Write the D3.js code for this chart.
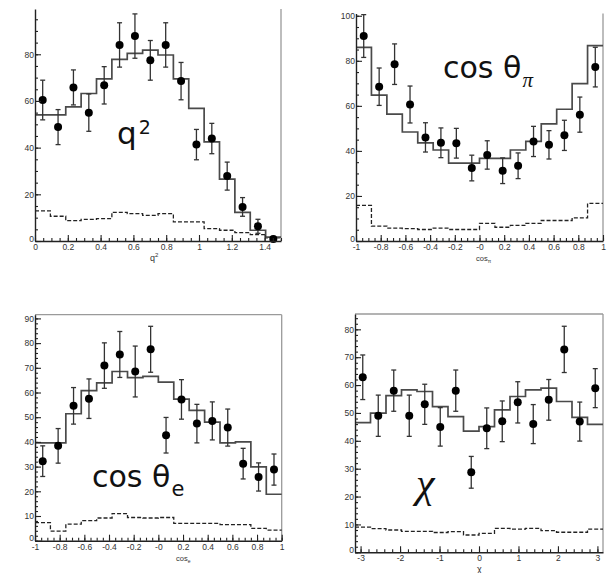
<!DOCTYPE html>
<html>
<head>
<meta charset="utf-8">
<script src="https://cdn.jsdelivr.net/npm/d3@7"></script>
<style>
  body { margin: 0; background: #fff; }
  svg { display: block; }
</style>
</head>
<body>
<svg id="chart" width="607" height="573"></svg>
<script>
/* globals d3 */

const width = 607;
const height = 573;

// ---- data ----
// q^2 panel, 16 bins over 0..1.5
const q2Data = [60.4, 48.8, 65.8, 55, 66.7, 84, 87.8, 77.4, 84, 68.5, 41.3, 43.9, 27.8, 14.6, 6.3, 0.9];
const q2Err = [8.5, 7.5, 7.5, 8, 8, 9.5, 9.5, 8.5, 9.5, 8, 6.5, 6.5, 6, 4, 3, 1];
const q2Mc = [54, 54, 57.5, 63.2, 69.5, 77.8, 80.4, 81.8, 79.7, 69.5, 56.8, 42.5, 26.5, 12.3, 4.6, 1.7];
const q2Bg = [12.9, 10.6, 8.7, 9.3, 9.6, 12.3, 11.7, 11.0, 11.7, 8.2, 8.2, 5.3, 4.6, 3.6, 2.7, 1.3];
const q2Ticks = [0, 0.2, 0.4, 0.6, 0.8, 1, 1.2, 1.4];
const q2TickLabels = ["0", "0.2", "0.4", "0.6", "0.8", "1", "1.2", "1.4"];

// cos theta_pi panel, 16 bins over -1..1
const cpiData = [91, 68.5, 78.5, 60.6, 46, 43.6, 43.4, 32.4, 38.2, 31.2, 33.4, 44.2, 42.7, 46.9, 56.1, 77.2];
const cpiErr = [9.5, 8.3, 9, 8.2, 6.5, 6.6, 6.6, 5.7, 6.3, 5.7, 5.7, 6.7, 6.3, 6.7, 7.8, 8.8];
const cpiMc = [86, 64.8, 56.3, 48.4, 43.6, 40.4, 34.6, 34.6, 36.7, 36.7, 40.4, 44.2, 52, 58.5, 69.9, 86.7];
const cpiBg = [15.8, 6.6, 5.7, 5.5, 5.1, 5.7, 5.1, 5.1, 7.8, 6.1, 6.9, 7.8, 9.1, 9.1, 10.3, 16.7];

// cos theta_e panel, 16 bins over -1..1
const ceData = [32.2, 38.4, 54.6, 57.5, 70.9, 75.4, 68.5, 77.5, 42.7, 57.2, 47.4, 48.5, 45.8, 31.2, 25.8, 28.8];
const ceErr = [6.2, 7, 7.4, 8, 9.2, 9.3, 10.3, 9.3, 7.2, 8, 7.8, 7.7, 7.5, 6.2, 5.7, 6.3];
const ceMc = [39.6, 39.6, 51.4, 60.8, 63.9, 68.5, 66, 66.5, 64.2, 57.3, 52.8, 48, 39.6, 40, 29.9, 18.8];
const ceBg = [7.3, 3.9, 6.7, 8.1, 9.2, 11.0, 9.4, 9.2, 9.4, 7, 7, 7, 6.5, 6.5, 5, 4.3];

const cosTicks = [-1, -0.8, -0.6, -0.4, -0.2, 0, 0.2, 0.4, 0.6, 0.8, 1];
const cosTickLabels = ["-1", "-0.8", "-0.6", "-0.4", "-0.2", "-0", "0.2", "0.4", "0.6", "0.8", "1"];

// chi panel, 16 bins over -pi..pi
const chiData = [62.8, 49, 58, 49, 53.1, 45, 58, 28.7, 44.5, 47, 53.8, 46, 54.7, 72.8, 46.9, 58.9];
const chiErr = [8, 7.4, 7.4, 7.4, 7.2, 6.9, 7.4, 5.7, 7.3, 7.3, 7.4, 7, 7.3, 8.3, 7, 7];
const chiMc = [46.5, 49.9, 56.2, 58.3, 57.7, 52.3, 48.7, 43.5, 45.1, 51.1, 55.9, 58.3, 58.9, 54.1, 48.4, 45.9];
const chiBg = [9, 8.5, 8, 7.5, 7.5, 7.1, 7.4, 6.2, 6.8, 8.6, 8.3, 8.6, 7.8, 7.2, 7.2, 8.3];
const chiTicks = [-3, -2, -1, 0, 1, 2, 3];
const chiTickLabels = ["-3", "-2", "-1", "0", "1", "2", "3"];

// ---- layout ----
const panels = [
  {
    left: 35, right: 281, top: 9, bottom: 241, topLine: false,
    xDomain: [0, 1.5], yDomain: [0, 99.4],
    data: q2Data, err: q2Err, mc: q2Mc, bg: q2Bg,
    xTicks: q2Ticks, xTickLabels: q2TickLabels, xMinor: 0.05,
    yStep: 20, yMinor: 5
  },
  {
    left: 356, right: 603, top: 13.5, bottom: 241, topLine: false,
    xDomain: [-1, 1], yDomain: [0, 101],
    data: cpiData, err: cpiErr, mc: cpiMc, bg: cpiBg,
    xTicks: cosTicks, xTickLabels: cosTickLabels, xMinor: 0.05,
    yStep: 20, yMinor: 5
  },
  {
    left: 35, right: 281.7, top: 314.7, bottom: 540.7, topLine: true,
    xDomain: [-1, 1], yDomain: [0, 91.5],
    data: ceData, err: ceErr, mc: ceMc, bg: ceBg,
    xTicks: cosTicks, xTickLabels: cosTickLabels, xMinor: 0.05,
    yStep: 10, yMinor: 2
  },
  {
    left: 355, right: 603, top: 314, bottom: 552.3, topLine: true,
    xDomain: [-Math.PI, Math.PI], yDomain: [0, 85.5],
    data: chiData, err: chiErr, mc: chiMc, bg: chiBg,
    xTicks: chiTicks, xTickLabels: chiTickLabels, xMinor: 0.2,
    yStep: 10, yMinor: 2
  }
];

const svg = d3.select("#chart");

function drawPanel(p) {
  const g = svg.append("g");
  const x = d3.scaleLinear(p.xDomain, [p.left, p.right]);
  const y = d3.scaleLinear(p.yDomain, [p.bottom, p.top]);
  const n = p.data.length;
  const binW = (p.xDomain[1] - p.xDomain[0]) / n;
  const edges = d3.range(n + 1).map(i => p.xDomain[0] + i * binW);
  const centers = d3.range(n).map(i => p.xDomain[0] + (i + 0.5) * binW);

  // frame (top/right) in light grey
  if (p.topLine) {
    g.append("line")
        .attr("x1", p.left).attr("x2", p.right)
        .attr("y1", p.top).attr("y2", p.top)
        .attr("stroke", "#9a9a9a").attr("stroke-width", 1.3);
  }
  g.append("line")
      .attr("x1", p.right).attr("x2", p.right)
      .attr("y1", p.top).attr("y2", p.bottom)
      .attr("stroke", "#9a9a9a").attr("stroke-width", 1.3);

  // step histograms
  const step = d3.line()
      .curve(d3.curveStepAfter)
      .x(d => x(d[0]))
      .y(d => y(d[1]));

  const stepPts = vals => edges.map((e, i) => [e, vals[Math.min(i, n - 1)]]);

  g.append("path")
      .attr("fill", "none")
      .attr("stroke", "#222")
      .attr("stroke-width", 1.3)
      .attr("stroke-dasharray", "4,2")
      .attr("d", step(stepPts(p.bg)));

  g.append("path")
      .attr("fill", "none")
      .attr("stroke", "#4a4a4a")
      .attr("stroke-width", 1.7)
      .attr("d", step(stepPts(p.mc)));

  // error bars
  const eb = g.append("g")
      .attr("stroke", "#333")
      .attr("stroke-width", 1.3)
    .selectAll("g")
    .data(d3.range(n))
    .join("g");

  eb.append("line")
      .attr("x1", i => x(centers[i])).attr("x2", i => x(centers[i]))
      .attr("y1", i => y(Math.min(p.data[i] + p.err[i], p.yDomain[1])))
      .attr("y2", i => y(Math.max(p.data[i] - p.err[i], 0)));
  eb.append("line")
      .attr("x1", i => x(centers[i]) - 2.5).attr("x2", i => x(centers[i]) + 2.5)
      .attr("y1", i => y(Math.min(p.data[i] + p.err[i], p.yDomain[1])))
      .attr("y2", i => y(Math.min(p.data[i] + p.err[i], p.yDomain[1])));
  eb.append("line")
      .attr("x1", i => x(centers[i]) - 2.5).attr("x2", i => x(centers[i]) + 2.5)
      .attr("y1", i => y(Math.max(p.data[i] - p.err[i], 0)))
      .attr("y2", i => y(Math.max(p.data[i] - p.err[i], 0)));

  g.append("g")
      .attr("fill", "#000")
    .selectAll("circle")
    .data(d3.range(n))
    .join("circle")
      .attr("cx", i => x(centers[i]))
      .attr("cy", i => y(p.data[i]))
      .attr("r", 4);

  // axes, ROOT style: ticks inside the frame
  const xMinorVals = d3.range(
    Math.ceil(p.xDomain[0] / p.xMinor - 1e-6),
    Math.floor(p.xDomain[1] / p.xMinor + 1e-6) + 1
  ).map(k => k * p.xMinor);
  const yMinorVals = d3.range(0, p.yDomain[1] + 1e-6, p.yMinor);
  const yTicks = d3.range(0, p.yDomain[1] + 1e-6, p.yStep);

  const styleAxis = a => {
    a.select(".domain").attr("stroke", "#222").attr("stroke-width", 1.4);
    a.selectAll(".tick line").attr("stroke", "#222").attr("stroke-width", 1.1);
    a.selectAll(".tick text")
        .attr("fill", "#333")
        .attr("font-family", "Liberation Sans, Arial, sans-serif")
        .attr("font-size", 8.5);
  };

  g.append("g")
      .attr("transform", `translate(0,${p.bottom})`)
      .call(d3.axisBottom(x).tickValues(xMinorVals).tickSize(-3).tickFormat("").tickSizeOuter(0))
      .call(a => a.select(".domain").remove())
      .call(styleAxis);
  g.append("g")
      .attr("transform", `translate(0,${p.bottom})`)
      .call(d3.axisBottom(x).tickValues(p.xTicks).tickSize(-6).tickPadding(3).tickSizeOuter(0)
        .tickFormat((d, i) => p.xTickLabels[i]))
      .call(styleAxis);

  g.append("g")
      .attr("transform", `translate(${p.left},0)`)
      .call(d3.axisLeft(y).tickValues(yMinorVals).tickSize(-3).tickFormat("").tickSizeOuter(0))
      .call(a => a.select(".domain").remove())
      .call(styleAxis);
  g.append("g")
      .attr("transform", `translate(${p.left},0)`)
      .call(d3.axisLeft(y).tickValues(yTicks).tickSize(-6).tickPadding(1).tickSizeOuter(0)
        .tickFormat(d3.format("d")))
      .call(styleAxis)
      .call(a => a.selectAll(".tick text").filter(d => d === 0).attr("dy", "0"));
}

panels.forEach(drawPanel);

// ---- big labels inside panels ----
const big = "DejaVu Sans, Verdana, sans-serif";

const t1 = svg.append("text").attr("x", 117).attr("y", 144)
    .attr("font-family", big).attr("font-size", 31).attr("fill", "#111");
t1.append("tspan").text("q");
t1.append("tspan").attr("font-size", 19).attr("dy", -10).attr("dx", 2).text("2");

const t2 = svg.append("text").attr("x", 443).attr("y", 78)
    .attr("font-family", big).attr("font-size", 30).attr("fill", "#111");
t2.append("tspan").text("cos θ");
t2.append("tspan").attr("font-size", 21).attr("dy", 9).attr("dx", 1)
    .attr("font-family", "Liberation Serif, serif").attr("font-style", "italic").text("π");

const t3 = svg.append("text").attr("x", 92).attr("y", 487)
    .attr("font-family", big).attr("font-size", 30).attr("fill", "#111");
t3.append("tspan").text("cos θ");
t3.append("tspan").attr("font-size", 21).attr("dy", 9).attr("dx", 1).text("e");

svg.append("text").attr("x", 416).attr("y", 497)
    .attr("font-family", "Liberation Serif, serif").attr("font-style", "italic")
    .attr("font-size", 42).attr("fill", "#111")
    .text("χ");

// ---- small axis titles ----
const small = "Liberation Sans, Arial, sans-serif";

const a1 = svg.append("text").attr("x", 150).attr("y", 261)
    .attr("font-family", small).attr("font-size", 9).attr("fill", "#333");
a1.append("tspan").text("q");
a1.append("tspan").attr("font-size", 6).attr("dy", -4).text("2");

const a2 = svg.append("text").attr("x", 476).attr("y", 261)
    .attr("font-family", small).attr("font-size", 7.5).attr("fill", "#333");
a2.append("tspan").text("cos");
a2.append("tspan").attr("font-size", 5).attr("dy", 2).text("π");

const a3 = svg.append("text").attr("x", 176).attr("y", 561)
    .attr("font-family", small).attr("font-size", 7.5).attr("fill", "#333");
a3.append("tspan").text("cos");
a3.append("tspan").attr("font-size", 5).attr("dy", 2).text("e");

svg.append("text").attr("x", 477).attr("y", 572)
    .attr("font-family", small).attr("font-size", 9).attr("fill", "#333")
    .text("χ");
</script>
</body>
</html>
